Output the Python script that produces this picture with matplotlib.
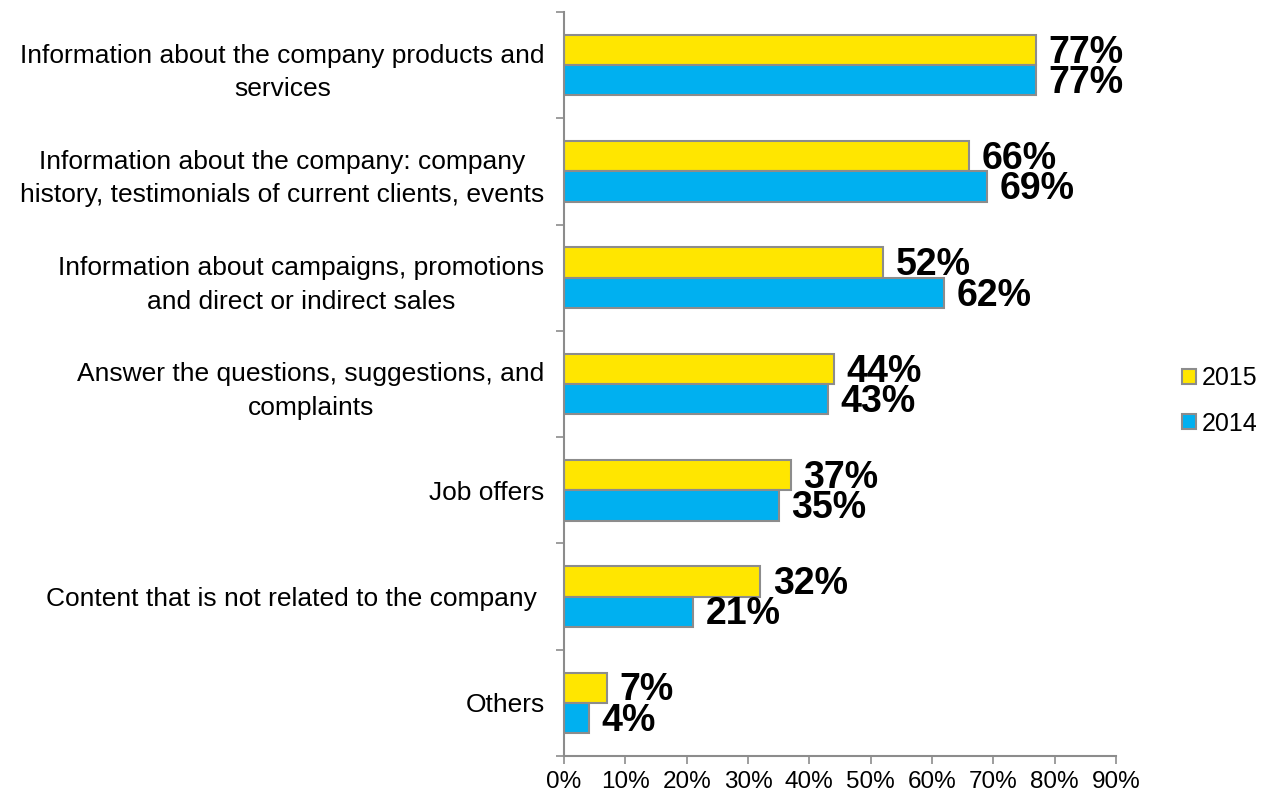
import numpy as np
import matplotlib
matplotlib.use('Agg')
import matplotlib.pyplot as plt

plt.rcParams['font.family'] = ['Liberation Sans', 'DejaVu Sans']

# Survey answers, top to bottom
categories = [
    "Information about the company products and\nservices",
    "Information about the company: company\nhistory, testimonials of current clients, events",
    "Information about campaigns, promotions\nand direct or indirect sales",
    "Answer the questions, suggestions, and\ncomplaints",
    "Job offers",
    "Content that is not related to the company ",
    "Others",
]
values_2015 = [77, 66, 52, 44, 37, 32, 7]
values_2014 = [77, 69, 62, 43, 35, 21, 4]
x_ticks = [0, 10, 20, 30, 40, 50, 60, 70, 80, 90]

yellow = '#FFE600'
blue = '#00B0F0'
edge = '#8C8C8C'

fig = plt.figure(figsize=(12.66, 8.0), dpi=100)
ax = fig.add_axes([0.4455, 0.055, 0.436, 0.93])

y = np.arange(len(categories))
h = 0.285
b15 = ax.barh(y - h / 2, values_2015, height=h, color=yellow, edgecolor=edge,
              linewidth=1.5, label='2015')
b14 = ax.barh(y + h / 2, values_2014, height=h, color=blue, edgecolor=edge,
              linewidth=1.5, label='2014')

# value labels next to each bar
for bars, vals in ((b15, values_2015), (b14, values_2014)):
    for bar, v in zip(bars, vals):
        ax.annotate(f"{v}%", (bar.get_width(), bar.get_y() + bar.get_height() / 2),
                    xytext=(9, -2), textcoords='offset points',
                    ha='left', va='center', fontsize=27, fontweight='bold')

ax.set_xlim(0, 90)
ax.set_ylim(len(categories) - 0.5, -0.5)

ax.set_xticks(x_ticks)
ax.set_xticklabels([f"{t}%" for t in x_ticks], fontsize=17.5)
ax.tick_params(axis='x', length=6, width=1.2, color=edge, direction='out', pad=5)

# category boundaries as major ticks, labels centred on minor ticks
ax.set_yticks(np.arange(-0.5, len(categories), 1.0))
ax.set_yticklabels([])
ax.set_yticks(y, minor=True)
ax.set_yticklabels(categories, minor=True, fontsize=19)
for t in ax.get_yticklabels(minor=True):
    t.set_multialignment('center')
    t.set_linespacing(1.5)
ax.tick_params(axis='y', which='major', length=6, width=1.2, color=edge, direction='out')
ax.tick_params(axis='y', which='minor', length=0, pad=14)

for side in ('top', 'right'):
    ax.spines[side].set_visible(False)
for side in ('left', 'bottom'):
    ax.spines[side].set_color(edge)
    ax.spines[side].set_linewidth(1.5)

leg = fig.legend(handles=[b15, b14], loc='center left',
                 bbox_to_anchor=(1182 / 1266, 1 - 401 / 800),
                 frameon=False, fontsize=18, handlelength=0.55, handleheight=0.55,
                 handletextpad=0.25, labelspacing=0.85, borderpad=0, borderaxespad=0)

fig.savefig('out.png', dpi=100)
